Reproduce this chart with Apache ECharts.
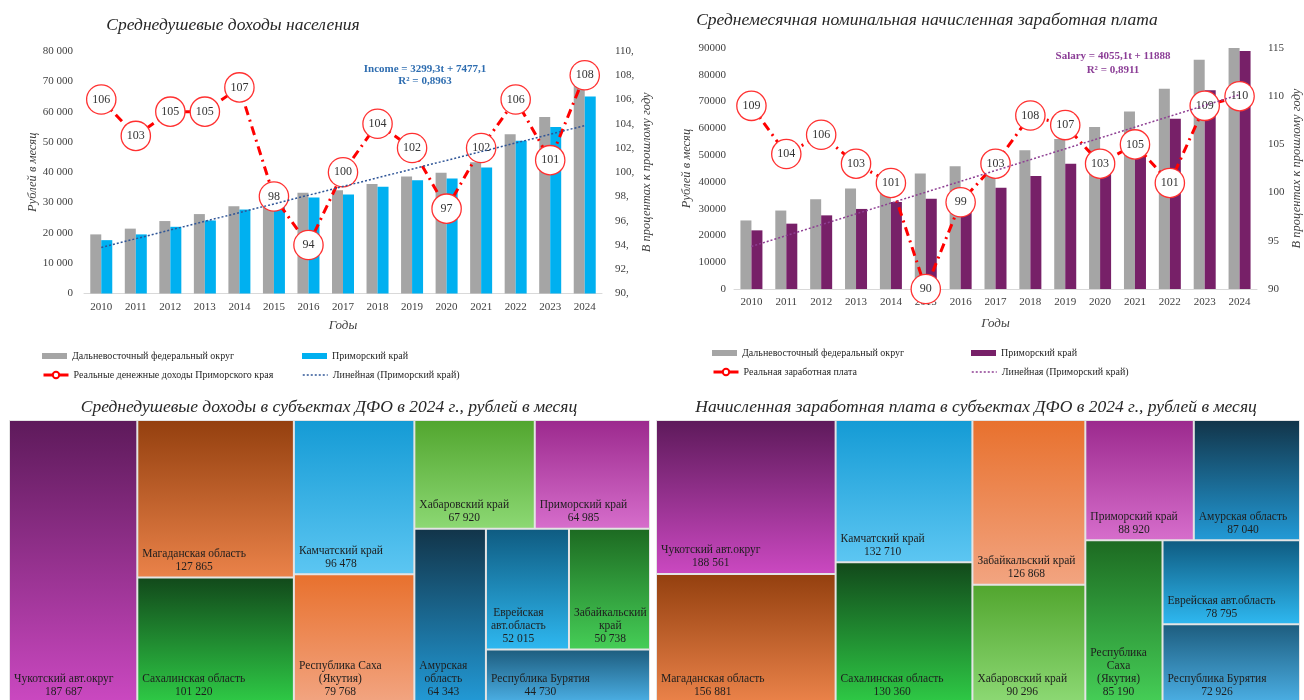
<!DOCTYPE html>
<html><head><meta charset="utf-8">
<script src="https://cdn.jsdelivr.net/npm/echarts@6/dist/echarts.min.js"></script>
<style>html,body{margin:0;padding:0;background:#fff}#c{width:1304px;height:700px}</style>
</head><body><div id="c"></div>
<script>
// ---------- data ----------
const years = ['2010','2011','2012','2013','2014','2015','2016','2017','2018','2019','2020','2021','2022','2023','2024'];
const incomeDFO  = [19500, 21400, 23900, 26200, 28800, 30500, 33200, 34100, 36100, 38600, 39800, 43300, 52500, 58200, 70400];
const incomePrim = [17600, 19500, 22000, 24100, 27700, 28600, 31700, 32700, 35200, 37400, 37900, 41600, 50400, 54900, 64985];
const incomeReal = [106, 103, 105, 105, 107, 98, 94, 100, 104, 102, 97, 102, 106, 101, 108];
const incomeTrend = [15200, null, null, null, null, null, null, null, null, null, null, null, null, null, 55400];
const salaryDFO  = [25600, 29300, 33500, 37500, 40000, 43100, 45800, 48500, 51800, 56000, 60500, 66300, 74800, 85600, 90300];
const salaryPrim = [21900, 24400, 27500, 29900, 32500, 33700, 35500, 37800, 42200, 46800, 49000, 54000, 63600, 74200, 88920];
const salaryReal = [109, 104, 106, 103, 101, 90, 99, 103, 108, 107, 103, 105, 101, 109, 110];
const salaryTrend = [15900, null, null, null, null, null, null, null, null, null, null, null, null, null, 72600];

const incomeRegions = ['Чукотский авт.округ','Магаданская область','Сахалинская область','Камчатский край','Республика Саха (Якутия)','Хабаровский край','Приморский край','Амурская область','Еврейская авт.область','Забайкальский край','Республика Бурятия'];
const incomeRegionValues = [187687, 127865, 101220, 96478, 79768, 67920, 64985, 64343, 52015, 50738, 44730];
const salaryRegions = ['Чукотский авт.округ','Магаданская область','Камчатский край','Сахалинская область','Забайкальский край','Хабаровский край','Приморский край','Амурская область','Республика Саха (Якутия)','Еврейская авт.область','Республика Бурятия'];
const salaryRegionValues = [188561, 156881, 132710, 130360, 126868, 90296, 88920, 87040, 85190, 78795, 72926];

// ---------- styles ----------
const incomeTop    = ['#5E1A5B','#94400F','#124A1B','#159BD5','#E8712E','#52A62F','#9C2A8E','#12354A','#0F5C82','#1D6B22','#1E5E80'];
const incomeBottom = ['#CA48C0','#EA8249','#2EC845','#5CC6F2','#F2A480','#8CD873','#D66DCB','#2299D5','#2EB7EF','#45CD56','#4AADE2'];
const salaryTop    = ['#5E1A5B','#94400F','#159BD5','#124A1B','#E8712E','#52A62F','#9C2A8E','#12354A','#1D6B22','#0F5C82','#1E5E80'];
const salaryBottom = ['#CA48C0','#EA8249','#5CC6F2','#2EC845','#F2A480','#8CD873','#D66DCB','#2299D5','#45CD56','#2EB7EF','#4AADE2'];

const SERIF = "'Liberation Serif','Times New Roman',serif";
const GRAY = '#A5A5A5', BLUE = '#00B0F0', PURPLE = '#772068', RED = '#FF0000';
const TREE_FONT = 11.5;
const fmtSp = v => String(v).replace(/\B(?=(\d{3})+(?!\d))/g, ' ');

function grad(a, b) {
  return {type:'linear', x:0, y:0, x2:0, y2:1, colorStops:[{offset:0, color:a},{offset:1, color:b}]};
}
function treeData(names, vals, tops, bots) {
  return names.map((n, i) => ({name: n, value: vals[i], itemStyle: {color: grad(tops[i], bots[i])}}));
}
const circleLabel = {
  show: true, position: 'inside', formatter: '{c}',
  width: 28, height: 28, lineHeight: 28, borderRadius: 15,
  backgroundColor: '#fff', borderColor: '#FF3030', borderWidth: 1.3,
  align: 'center', verticalAlign: 'middle',
  color: '#333', fontFamily: SERIF, fontSize: 12
};
const axisLbl = {color: '#404040', fontFamily: SERIF, fontSize: 11};
const nameStyle = {color: '#404040', fontFamily: SERIF, fontSize: 12.5, fontStyle: 'italic'};

function legendItem(left, top, item, h) {
  return {
    left, top, padding: 0, itemWidth: 25, itemHeight: h, itemGap: 0, selectedMode: false,
    textStyle: {fontFamily: SERIF, fontSize: 10, color: '#262626'},
    data: [item]
  };
}

const treeCommon = {
  type: 'treemap', roam: false, nodeClick: false, squareRatio: 0.79,
  breadcrumb: {show: false}, animation: false,
  emphasis: {disabled: true},
  itemStyle: {borderWidth: 0, gapWidth: 2, borderColor: '#E4E4E4'},
  levels: [{itemStyle: {borderWidth: 1, gapWidth: 2, borderColor: '#E4E4E4'}}],
  label: {
    show: true, position: 'insideBottomLeft', distance: 0, padding: 0,
    color: '#1E1E1E', fontFamily: SERIF, fontSize: TREE_FONT, lineHeight: 13,
    overflow: 'none',
    formatter: p => p.name + '\n' + fmtSp(p.value)
  }
};

const txt = (x, y, text, font, fill) => ({type:'text', x, y, style:{text, font, fill, align:'center', verticalAlign:'middle'}});

const option = {
  animation: false,
  backgroundColor: '#fff',
  graphic: [
    txt(233, 25, 'Среднедушевые доходы населения', "italic 17.5px 'Liberation Serif'", '#262626'),
    txt(927, 20, 'Среднемесячная номинальная начисленная заработная плата', "italic 17.5px 'Liberation Serif'", '#262626'),
    txt(425, 69, 'Income = 3299,3t + 7477,1', "bold 11px 'Liberation Serif'", '#2E6DB0'),
    txt(425, 81, 'R² = 0,8963', "bold 11px 'Liberation Serif'", '#2E6DB0'),
    txt(1113, 56, 'Salary = 4055,1t + 11888', "bold 11px 'Liberation Serif'", '#8B3D96'),
    txt(1113, 70, 'R² = 0,8911', "bold 11px 'Liberation Serif'", '#8B3D96'),
    txt(329, 407, 'Среднедушевые доходы в субъектах ДФО в 2024 г., рублей в месяц', "italic 17.5px 'Liberation Serif'", '#262626'),
    txt(976, 407, 'Начисленная заработная плата в субъектах ДФО в 2024 г., рублей в месяц', "italic 17.5px 'Liberation Serif'", '#262626')
  ],
  legend: [
    legendItem(42, 351, {name:'Дальневосточный федеральный округ', icon:'rect'}, 6),
    legendItem(302, 351, {name:'Приморский край', icon:'rect'}, 6),
    legendItem(42, 370, {name:'Реальные денежные доходы Приморского края', lineStyle:{type:'solid', width:3}}, 8),
    legendItem(302, 370, {name:'Линейная (Приморский край)', itemStyle:{opacity:0}, lineStyle:{type:[2,2], width:1.5, color:'#2F5597'}}, 8),
    legendItem(712, 348, {name:'Дальневосточный федеральный округ', icon:'rect'}, 6),
    legendItem(971, 348, {name:'Приморский край', icon:'rect', itemStyle:{color:PURPLE}}, 6),
    legendItem(712, 367, {name:'Реальная заработная плата', lineStyle:{type:'solid', width:3}}, 8),
    legendItem(971, 367, {name:'Линейная (Приморский край)', itemStyle:{opacity:0}, lineStyle:{type:[2,2], width:1.5, color:'#8E3F93'}}, 8)
  ],
  grid: [
    {left: 84, top: 51, width: 518, height: 242.5},
    {left: 734, top: 48, width: 527, height: 241}
  ],
  xAxis: [
    {type:'category', gridIndex:0, data: years, axisTick:{show:false},
     axisLine:{lineStyle:{color:'#D9D9D9'}}, axisLabel:{...axisLbl, margin:8},
     name:'Годы', nameLocation:'middle', nameGap:26, nameTextStyle:{...nameStyle, fontSize:13}},
    {type:'category', gridIndex:1, data: years, axisTick:{show:false},
     axisLine:{lineStyle:{color:'#D9D9D9'}}, axisLabel:{...axisLbl, margin:8},
     name:'Годы', nameLocation:'middle', nameGap:28, nameTextStyle:{...nameStyle, fontSize:13}}
  ],
  yAxis: [
    {type:'value', gridIndex:0, min:0, max:80000, interval:10000, splitLine:{show:false},
     axisLine:{show:false}, axisTick:{show:false}, axisLabel:{...axisLbl, margin:11, formatter: fmtSp},
     name:'Рублей в месяц', nameLocation:'middle', nameRotate:90, nameGap:44, nameTextStyle:nameStyle},
    {type:'value', gridIndex:0, position:'right', min:90, max:110, interval:2, splitLine:{show:false},
     axisLine:{show:false}, axisTick:{show:false}, axisLabel:{...axisLbl, margin:13, formatter: v => v + ','},
     name:'В процентах к прошлому году', nameLocation:'middle', nameRotate:90, nameGap:38, nameTextStyle:nameStyle},
    {type:'value', gridIndex:1, min:0, max:90000, interval:10000, splitLine:{show:false},
     axisLine:{show:false}, axisTick:{show:false}, axisLabel:{...axisLbl, margin:8, formatter: v => String(v)},
     name:'Рублей в месяц', nameLocation:'middle', nameRotate:90, nameGap:41, nameTextStyle:nameStyle},
    {type:'value', gridIndex:1, position:'right', min:90, max:115, interval:5, splitLine:{show:false},
     axisLine:{show:false}, axisTick:{show:false}, axisLabel:{...axisLbl, margin:11},
     name:'В процентах к прошлому году', nameLocation:'middle', nameRotate:90, nameGap:33, nameTextStyle:nameStyle}
  ],
  series: [
    {name:'Дальневосточный федеральный округ', type:'bar', xAxisIndex:0, yAxisIndex:0, data: incomeDFO,
     barWidth: 11, barGap: '0%', itemStyle:{color: GRAY}},
    {name:'Приморский край', type:'bar', xAxisIndex:0, yAxisIndex:0, data: incomePrim,
     barWidth: 11, barGap: '0%', itemStyle:{color: BLUE}},
    {name:'Реальные денежные доходы Приморского края', type:'line', xAxisIndex:0, yAxisIndex:1, data: incomeReal,
     z: 3, symbol:'emptyCircle', symbolSize: 5, itemStyle:{color: RED},
     lineStyle:{color: RED, width: 3, type:[9,5,2,5]}, label: circleLabel},
    {name:'Линейная (Приморский край)', type:'line', xAxisIndex:0, yAxisIndex:0, data: incomeTrend,
     z: 4, connectNulls: true, symbol:'none', silent: true,
     lineStyle:{color:'#2F5597', width:1.5, type:[2,2]}, itemStyle:{color:'#2F5597'}},

    {name:'Дальневосточный федеральный округ', type:'bar', xAxisIndex:1, yAxisIndex:2, data: salaryDFO,
     barWidth: 11, barGap: '0%', itemStyle:{color: GRAY}},
    {name:'Приморский край', type:'bar', xAxisIndex:1, yAxisIndex:2, data: salaryPrim,
     barWidth: 11, barGap: '0%', itemStyle:{color: PURPLE}},
    {name:'Реальная заработная плата', type:'line', xAxisIndex:1, yAxisIndex:3, data: salaryReal,
     z: 3, symbol:'emptyCircle', symbolSize: 5, itemStyle:{color: RED},
     lineStyle:{color: RED, width: 3, type:[9,5,2,5]}, label: circleLabel},
    {name:'Линейная (Приморский край)', type:'line', xAxisIndex:1, yAxisIndex:2, data: salaryTrend,
     z: 4, connectNulls: true, symbol:'none', silent: true,
     lineStyle:{color:'#8E3F93', width:1.5, type:[2,2]}, itemStyle:{color:'#8E3F93'}},

    Object.assign({}, treeCommon, {name:'Среднедушевые доходы', left: 9, top: 420, width: 641, height: 282,
      data: treeData(incomeRegions, incomeRegionValues, incomeTop, incomeBottom)}),
    Object.assign({}, treeCommon, {name:'Начисленная заработная плата', left: 656, top: 420, width: 644, height: 282,
      data: treeData(salaryRegions, salaryRegionValues, salaryTop, salaryBottom)})
  ]
};
const chart = echarts.init(document.getElementById('c'), null, {renderer: 'canvas'});
chart.setOption(option);

// Wrap treemap labels to the cell width the library laid out, lines centred on each other
const measureCtx = document.createElement('canvas').getContext('2d');
measureCtx.font = TREE_FONT + "px 'Liberation Serif'";
function relabel(si) {
  const sm = chart.getModel().getSeriesByIndex(si);
  const tree = sm.getData().tree;
  const items = option.series[si].data;
  tree.root.children.forEach(node => {
    const l = node.getLayout();
    const item = items.find(d => d.name === node.name);
    if (!l || !item) return;
    const maxW = l.width - 8;
    const words = node.name.split(' ');
    const lines = [];
    let cur = '';
    words.forEach(w => {
      const t = cur ? cur + ' ' + w : w;
      if (!cur || measureCtx.measureText(t).width <= maxW) cur = t;
      else { lines.push(cur); cur = w; }
    });
    lines.push(cur);
    lines.push(fmtSp(item.value));
    const mw = Math.max(...lines.map(s => measureCtx.measureText(s).width));
    item.label = {formatter: lines.join('\n'), position: [4 + mw / 2, l.height - 3], align: 'center', verticalAlign: 'bottom'};
  });
}
try {
  relabel(8); relabel(9);
  chart.setOption({series: option.series});
} catch (e) { console.error(e); }
</script>
</body></html>
